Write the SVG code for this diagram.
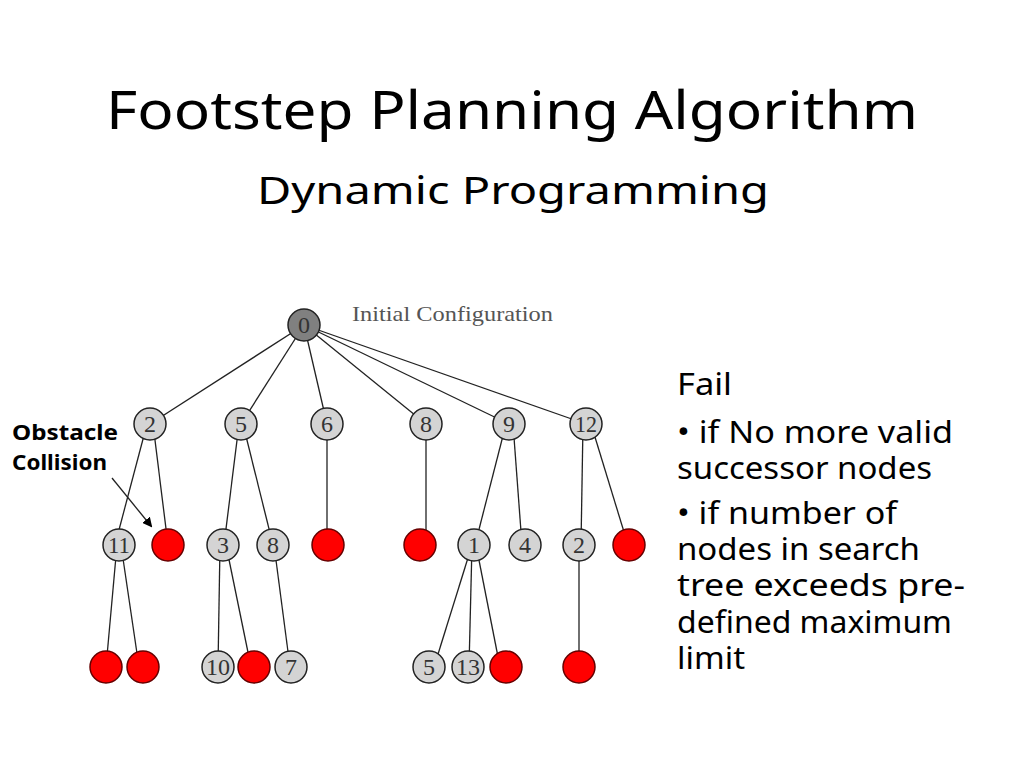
<svg xmlns="http://www.w3.org/2000/svg" width="1024" height="768" viewBox="0 0 1024 768">
<style>
.t{font-family:"Comic Sans MS","Noto Sans","DejaVu Sans",sans-serif;fill:#000}
.n circle{stroke:#222;stroke-width:1.5}
.g circle{fill:#d4d4d4}
.r circle{fill:#ff0000;stroke:#600}
.n text{font-family:"Liberation Serif",serif;font-size:24px;fill:#333;text-anchor:middle}
#edges line{stroke:#222;stroke-width:1.3}
</style>
<defs>
<marker id="ah" markerWidth="10" markerHeight="10" refX="8" refY="5" orient="auto" markerUnits="userSpaceOnUse"><path d="M0,0 L10,5 L0,10 z" fill="#000"/></marker>
</defs>
<rect width="1024" height="768" fill="#fff"/>
<text class="t" x="512" y="129" font-size="52" text-anchor="middle" textLength="812" lengthAdjust="spacingAndGlyphs">Footstep Planning Algorithm</text>
<text class="t" x="513" y="204" font-size="38" text-anchor="middle" textLength="512" lengthAdjust="spacingAndGlyphs">Dynamic Programming</text>
<text x="352" y="321" font-family="Liberation Serif,serif" font-size="21" fill="#555" textLength="201" lengthAdjust="spacingAndGlyphs">Initial Configuration</text>
<g id="edges">
<line x1="304" y1="325" x2="150" y2="424"/>
<line x1="304" y1="325" x2="241" y2="424"/>
<line x1="304" y1="325" x2="327" y2="424"/>
<line x1="304" y1="325" x2="426" y2="424"/>
<line x1="304" y1="325" x2="509" y2="424"/>
<line x1="304" y1="325" x2="586" y2="424"/>
<line x1="147" y1="424" x2="115" y2="545"/>
<line x1="153" y1="424" x2="168" y2="545"/>
<line x1="239" y1="424" x2="224" y2="545"/>
<line x1="243" y1="424" x2="273" y2="545"/>
<line x1="327" y1="424" x2="327" y2="545"/>
<line x1="426" y1="424" x2="426" y2="545"/>
<line x1="506" y1="424" x2="475" y2="545"/>
<line x1="513" y1="424" x2="522" y2="545"/>
<line x1="583" y1="424" x2="581" y2="545"/>
<line x1="591" y1="424" x2="628" y2="545"/>
<line x1="117" y1="545" x2="106" y2="667"/>
<line x1="121" y1="545" x2="139" y2="667"/>
<line x1="220" y1="545" x2="218" y2="667"/>
<line x1="226" y1="545" x2="251" y2="667"/>
<line x1="274" y1="545" x2="290" y2="667"/>
<line x1="472" y1="545" x2="434" y2="667"/>
<line x1="472" y1="545" x2="469" y2="667"/>
<line x1="476" y1="545" x2="500" y2="667"/>
<line x1="579" y1="545" x2="579" y2="667"/>
<line x1="112" y1="478" x2="151" y2="526" stroke="#000" stroke-width="2" marker-end="url(#ah)"/>
</g>
<g id="n0" class="n"><circle cx="304" cy="325" r="16" fill="#808080"/><text x="304" y="333">0</text></g>
<g id="n2" class="n g"><circle cx="150" cy="424" r="16"/><text x="150" y="432">2</text></g>
<g id="n5" class="n g"><circle cx="241" cy="424" r="16"/><text x="241" y="432">5</text></g>
<g id="n6" class="n g"><circle cx="327" cy="424" r="16"/><text x="327" y="432">6</text></g>
<g id="n8" class="n g"><circle cx="426" cy="424" r="16"/><text x="426" y="432">8</text></g>
<g id="n9" class="n g"><circle cx="509" cy="424" r="16"/><text x="509" y="432">9</text></g>
<g id="n12" class="n g"><circle cx="586" cy="424" r="16"/><text x="586" y="432" textLength="22" lengthAdjust="spacingAndGlyphs">12</text></g>
<g id="n11" class="n g"><circle cx="119" cy="545" r="16"/><text x="119" y="553" textLength="22" lengthAdjust="spacingAndGlyphs">11</text></g>
<g id="r1" class="n r"><circle cx="168" cy="545" r="16"/></g>
<g id="n3" class="n g"><circle cx="223" cy="545" r="16"/><text x="223" y="553">3</text></g>
<g id="n8b" class="n g"><circle cx="273" cy="545" r="16"/><text x="273" y="553">8</text></g>
<g id="r2" class="n r"><circle cx="328" cy="545" r="16"/></g>
<g id="r3" class="n r"><circle cx="420" cy="545" r="16"/></g>
<g id="n1" class="n g"><circle cx="474" cy="545" r="16"/><text x="474" y="553">1</text></g>
<g id="n4" class="n g"><circle cx="525" cy="545" r="16"/><text x="525" y="553">4</text></g>
<g id="n2b" class="n g"><circle cx="579" cy="545" r="16"/><text x="579" y="553">2</text></g>
<g id="r4" class="n r"><circle cx="629" cy="545" r="16"/></g>
<g id="r5" class="n r"><circle cx="106" cy="667" r="16"/></g>
<g id="r6" class="n r"><circle cx="143" cy="667" r="16"/></g>
<g id="n10" class="n g"><circle cx="218" cy="667" r="16"/><text x="218" y="675" textLength="24" lengthAdjust="spacingAndGlyphs">10</text></g>
<g id="r7" class="n r"><circle cx="254" cy="667" r="16"/></g>
<g id="n7" class="n g"><circle cx="291" cy="667" r="16"/><text x="291" y="675">7</text></g>
<g id="n5b" class="n g"><circle cx="429" cy="667" r="16"/><text x="429" y="675">5</text></g>
<g id="n13" class="n g"><circle cx="468" cy="667" r="16"/><text x="468" y="675" textLength="24" lengthAdjust="spacingAndGlyphs">13</text></g>
<g id="r8" class="n r"><circle cx="506" cy="667" r="16"/></g>
<g id="r9" class="n r"><circle cx="579" cy="667" r="16"/></g>
<text class="t" x="12" y="440" font-size="21" font-weight="bold" textLength="106" lengthAdjust="spacingAndGlyphs">Obstacle</text>
<text class="t" x="12" y="470" font-size="21" font-weight="bold" textLength="95" lengthAdjust="spacingAndGlyphs">Collision</text>
<g class="t" font-size="30" lengthAdjust="spacingAndGlyphs">
<text x="677" y="395" textLength="55" lengthAdjust="spacingAndGlyphs">Fail</text>
<text x="677" y="443" textLength="276" lengthAdjust="spacingAndGlyphs">• if No more valid</text>
<text x="677" y="479" textLength="255" lengthAdjust="spacingAndGlyphs">successor nodes</text>
<text x="677" y="524" textLength="220" lengthAdjust="spacingAndGlyphs">• if number of</text>
<text x="677" y="560" textLength="243" lengthAdjust="spacingAndGlyphs">nodes in search</text>
<text x="677" y="596" textLength="288" lengthAdjust="spacingAndGlyphs">tree exceeds pre-</text>
<text x="677" y="633" textLength="275" lengthAdjust="spacingAndGlyphs">defined maximum</text>
<text x="677" y="669" textLength="68" lengthAdjust="spacingAndGlyphs">limit</text>
</g>
</svg>
